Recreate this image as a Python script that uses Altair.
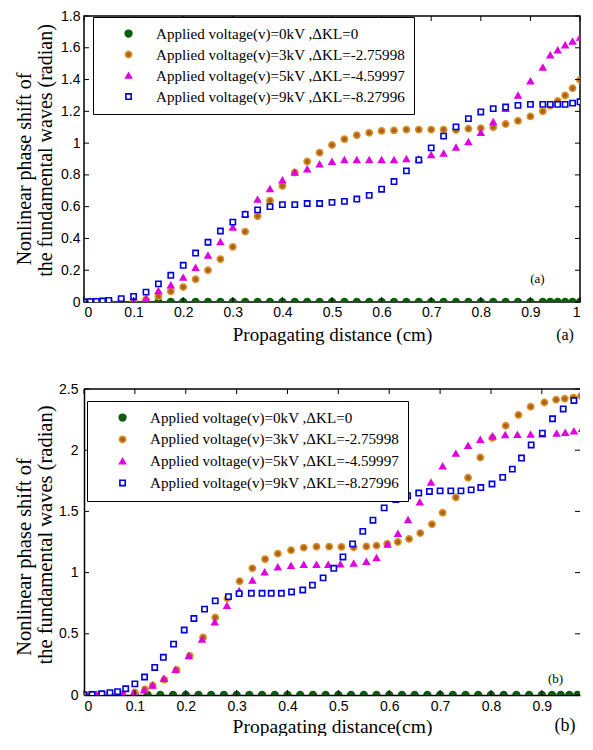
import altair as alt
import pandas as pd

# ---------------- legend / series definitions ----------------
LABELS = [
    "Applied voltage(v)=0kV ,ΔKL=0",
    "Applied voltage(v)=3kV ,ΔKL=-2.75998",
    "Applied voltage(v)=5kV ,ΔKL=-4.59997",
    "Applied voltage(v)=9kV ,ΔKL=-8.27996",
]
STROKES = ["#0b5d0b", "#dd8f2c", "#e000e0", "#0000e0"]
FILLS = ["#0b5d0b", "#a8621a", "#e000e0", "#ffffff"]
SHAPES = ["circle", "circle", "triangle-up", "square"]
SIZES = [45, 28, 38, 38]

# ---------------- panel (a) ----------------
xa = [0, 0.0125, 0.025, 0.0375, 0.05, 0.075, 0.1, 0.125, 0.15, 0.175, 0.2, 0.225,
      0.25, 0.275, 0.3, 0.325, 0.35, 0.375, 0.4, 0.425, 0.45, 0.475, 0.5, 0.525,
      0.55, 0.575, 0.6, 0.625, 0.65, 0.675, 0.7, 0.725, 0.75, 0.775, 0.8, 0.825,
      0.85, 0.875, 0.9, 0.925, 0.94, 0.955, 0.97, 0.985, 1.0]
ya_0kv = [0, 0, 0, 0, 0, 0, 0, 0, 0, 0, 0, 0, 0, 0, 0, 0, 0, 0, 0, 0, 0, 0, 0, 0,
          0, 0, 0, 0, 0, 0, 0, 0, 0, 0, 0, 0, 0, 0, 0, 0, 0, 0, 0, 0, 0]
ya_3kv = [0, 0, 0, 0, 0, 0.0, 0.005, 0.015, 0.035, 0.067, 0.094, 0.143, 0.2, 0.27,
          0.347, 0.443, 0.54, 0.638, 0.73, 0.815, 0.884, 0.94, 0.988, 1.025, 1.05,
          1.065, 1.077, 1.08, 1.085, 1.085, 1.085, 1.085, 1.082, 1.09, 1.094, 1.1,
          1.12, 1.14, 1.168, 1.2, 1.235, 1.265, 1.3, 1.345, 1.397]
ya_5kv = [0, 0, 0, 0, 0, 0, 0.008, 0.02, 0.07, 0.106, 0.154, 0.216, 0.293, 0.378,
          0.47, 0.555, 0.645, 0.711, 0.767, 0.815, 0.836, 0.867, 0.883, 0.894, 0.894,
          0.894, 0.894, 0.894, 0.9, 0.9, 0.925, 0.935, 0.973, 1.008, 1.065, 1.133,
          1.217, 1.3, 1.39, 1.477, 1.554, 1.585, 1.617, 1.64, 1.665]
ya_9kv = [0, 0.002, 0.004, 0.006, 0.01, 0.021, 0.035, 0.062, 0.114, 0.168, 0.231,
          0.308, 0.376, 0.447, 0.503, 0.551, 0.58, 0.6, 0.613, 0.613, 0.62, 0.62,
          0.627, 0.633, 0.648, 0.671, 0.71, 0.758, 0.825, 0.894, 0.97, 1.044, 1.102,
          1.154, 1.196, 1.217, 1.227, 1.2375, 1.244, 1.244, 1.244, 1.244, 1.244,
          1.252, 1.26]

# ---------------- panel (b) ----------------
xb_0kv = [0, 0.0125, 0.025, 0.0375, 0.05, 0.075, 0.1, 0.125, 0.15, 0.175, 0.2,
          0.225, 0.25, 0.275, 0.3, 0.325, 0.35, 0.375, 0.4, 0.425, 0.45, 0.475, 0.5,
          0.525, 0.55, 0.575, 0.6, 0.625, 0.65, 0.675, 0.7, 0.725, 0.75, 0.775, 0.8,
          0.825, 0.85, 0.875, 0.9, 0.92, 0.937, 0.954, 0.97, 0.986]
yb_0kv = [0, 0, 0, 0, 0, 0, 0, 0, 0, 0, 0, 0, 0, 0, 0, 0, 0, 0, 0, 0, 0, 0, 0, 0,
          0, 0, 0, 0, 0, 0, 0, 0, 0, 0, 0, 0, 0, 0, 0, 0, 0, 0, 0, 0]
xb_3kv = [0, 0.0125, 0.025, 0.0375, 0.05, 0.075, 0.1, 0.12, 0.135, 0.158, 0.182,
          0.208, 0.234, 0.258, 0.282, 0.306, 0.331, 0.356, 0.381, 0.407, 0.432, 0.457,
          0.482, 0.506, 0.53, 0.555, 0.575, 0.596, 0.617, 0.639, 0.661, 0.684, 0.705,
          0.731, 0.755, 0.779, 0.803, 0.829, 0.854, 0.878, 0.905, 0.928, 0.945,
          0.962, 0.977, 0.99]
yb_3kv = [0, 0, 0, 0, 0, 0.005, 0.02, 0.046, 0.078, 0.125, 0.205, 0.32, 0.47, 0.633,
          0.79, 0.93, 1.035, 1.11, 1.155, 1.183, 1.204, 1.212, 1.212, 1.21, 1.207,
          1.213, 1.22, 1.235, 1.25, 1.275, 1.323, 1.395, 1.489, 1.614, 1.775, 1.94,
          2.1, 2.2, 2.288, 2.355, 2.39, 2.412, 2.42, 2.43, 2.443, 2.455]
xb_5kv = [0, 0.0125, 0.025, 0.0375, 0.05, 0.077, 0.098, 0.118, 0.135, 0.157, 0.18,
          0.206, 0.232, 0.257, 0.281, 0.305, 0.331, 0.355, 0.381, 0.407, 0.432, 0.457,
          0.48, 0.504, 0.53, 0.555, 0.575, 0.597, 0.617, 0.637, 0.66, 0.682, 0.705,
          0.731, 0.755, 0.779, 0.803, 0.828, 0.852, 0.878, 0.901, 0.929, 0.946,
          0.963, 0.979, 0.992]
yb_5kv = [0, 0, 0, 0, 0, 0.01, 0.019, 0.04, 0.078, 0.134, 0.206, 0.319, 0.453, 0.595,
          0.729, 0.85, 0.936, 1.003, 1.045, 1.056, 1.065, 1.065, 1.065, 1.068, 1.075,
          1.09, 1.12, 1.23, 1.318, 1.43, 1.576, 1.737, 1.87, 1.973, 2.037, 2.086,
          2.115, 2.125, 2.126, 2.128, 2.13, 2.137, 2.144, 2.155, 2.175, 2.2]
xb_9kv = [0, 0.016, 0.035, 0.051, 0.066, 0.082, 0.1, 0.119, 0.139, 0.156, 0.176,
          0.197, 0.216, 0.237, 0.258, 0.284, 0.305, 0.329, 0.35, 0.368, 0.388, 0.408,
          0.43, 0.449, 0.47, 0.491, 0.509, 0.528, 0.548, 0.568, 0.59, 0.613, 0.636,
          0.658, 0.679, 0.7, 0.721, 0.741, 0.761, 0.78, 0.802, 0.823, 0.842, 0.86,
          0.879, 0.901, 0.921, 0.942, 0.963, 0.985]
yb_9kv = [0, 0.004, 0.01, 0.019, 0.027, 0.051, 0.091, 0.147, 0.225, 0.308, 0.416,
          0.531, 0.625, 0.702, 0.769, 0.804, 0.828, 0.831, 0.831, 0.831, 0.831, 0.842,
          0.858, 0.898, 0.957, 1.035, 1.128, 1.235, 1.337, 1.428, 1.529, 1.596, 1.628,
          1.65, 1.663, 1.668, 1.668, 1.668, 1.676, 1.695, 1.724, 1.778, 1.845, 1.936,
          2.043, 2.139, 2.257, 2.337, 2.406, 2.46]

# ---------------- ticks and texts ----------------
xticks_a = [0, 0.1, 0.2, 0.3, 0.4, 0.5, 0.6, 0.7, 0.8, 0.9, 1.0]
yticks_a = [0, 0.2, 0.4, 0.6, 0.8, 1.0, 1.2, 1.4, 1.6, 1.8]
xticks_b = [0, 0.1, 0.2, 0.3, 0.4, 0.5, 0.6, 0.7, 0.8, 0.9]
yticks_b = [0, 0.5, 1.0, 1.5, 2.0, 2.5]
YTITLE = ["Nonlinear phase shift of", "the fundamental waves (radian)"]

SERIF = "Liberation Serif"
SANS = "Liberation Sans"


def long_df(pairs):
    rows = []
    for lab, xs, ys in pairs:
        for x, y in zip(xs, ys):
            rows.append({"series": lab, "x": x, "y": y})
    return pd.DataFrame(rows)


def make_panel(df, W, H, xdom, ydom, xticks, yticks, xtitle, tag, p):
    xs = alt.Scale(domain=xdom, nice=False, zero=False)
    ys = alt.Scale(domain=ydom, nice=False, zero=False)
    xax = alt.Axis(
        values=xticks, format="~g", ticks=False, domain=not p["box"],
        domainColor="black", domainWidth=1.5,
        labelFont=SANS, labelFontSize=14, labelColor="black", labelPadding=p["xlab_pad"],
        title=xtitle, titleFont=SERIF, titleFontSize=p["xtitle_size"],
        titleFontWeight="normal", titleColor="black", titlePadding=p["xtitle_pad"],
        grid=False)
    yax = alt.Axis(
        values=yticks, format="~g", ticks=False, domain=not p["box"],
        domainColor="black", domainWidth=1.5,
        labelFont=SANS, labelFontSize=14, labelColor="black", labelPadding=p["ylab_pad"],
        title=None, grid=False)
    leg = alt.Legend(
        orient="none", legendX=p["leg_x"], legendY=p["leg_y"], title=None,
        strokeColor="black", fillColor="white", padding=9,
        rowPadding=p["row_pad"], labelFont=SERIF, labelFontSize=15.1, labelColor="black",
        labelLimit=500, symbolOffset=19, labelOffset=20, symbolStrokeWidth=1.6,
    )
    pts = alt.Chart(df).mark_point(opacity=1, strokeWidth=1.6, clip=True).encode(
        x=alt.X("x:Q", scale=xs, axis=xax),
        y=alt.Y("y:Q", scale=ys, axis=yax),
        shape=alt.Shape("series:N", scale=alt.Scale(domain=LABELS, range=SHAPES), legend=leg),
        stroke=alt.Stroke("series:N", scale=alt.Scale(domain=LABELS, range=STROKES), legend=leg),
        fill=alt.Fill("series:N", scale=alt.Scale(domain=LABELS, range=FILLS), legend=leg),
        size=alt.Size("series:N", scale=alt.Scale(domain=LABELS, range=SIZES), legend=leg),
        order=alt.Order("series:N", sort="ascending"),
    )

    ydf = pd.DataFrame({"y": yticks})
    xdf = pd.DataFrame({"x": xticks})
    tick_left = alt.Chart(ydf).mark_rule(color="black", strokeWidth=1).encode(
        y=alt.Y("y:Q", scale=ys, axis=yax), x=alt.value(0), x2=alt.value(5))
    tick_right = alt.Chart(ydf).mark_rule(color="black", strokeWidth=1).encode(
        y=alt.Y("y:Q", scale=ys, axis=yax), x=alt.value(W - 5), x2=alt.value(W))
    tick_bot = alt.Chart(xdf).mark_rule(color="black", strokeWidth=1).encode(
        x=alt.X("x:Q", scale=xs, axis=xax), y=alt.value(H), y2=alt.value(H - 5))
    tick_top = alt.Chart(xdf).mark_rule(color="black", strokeWidth=1).encode(
        x=alt.X("x:Q", scale=xs, axis=xax), y=alt.value(0), y2=alt.value(5))

    tag_df = pd.DataFrame({"t": [tag], "x": [p["tag_in"][0]], "y": [p["tag_in"][1]]})
    tag_in = alt.Chart(tag_df).mark_text(font=SERIF, fontSize=13, color="black").encode(
        x=alt.X("x:Q", scale=xs, axis=xax), y=alt.Y("y:Q", scale=ys, axis=yax), text="t:N")
    tag_out = alt.Chart(tag_df).mark_text(font=SERIF, fontSize=p["tag_size"], color="black").encode(
        x=alt.value(p["tag_out"][0]), y=alt.value(p["tag_out"][1]), text="t:N")

    # two-line y-axis title (lines placed independently, as in the original)
    t1 = alt.Chart(pd.DataFrame({"t": [YTITLE[0]]})).mark_text(
        font=SERIF, fontSize=p["ytitle_size"], color="black", angle=270,
        align="center", baseline="middle").encode(
        x=alt.value(p["yt1"][0]), y=alt.value(p["yt1"][1]), text="t:N")
    t2 = alt.Chart(pd.DataFrame({"t": [YTITLE[1]]})).mark_text(
        font=SERIF, fontSize=p["ytitle_size"], color="black", angle=270,
        align="center", baseline="middle").encode(
        x=alt.value(p["yt2"][0]), y=alt.value(p["yt2"][1]), text="t:N")

    layers = [pts, tick_left, tick_right, tick_bot, tick_top, tag_in, tag_out, t1, t2]
    if not p["box"]:
        top_border = alt.Chart(tag_df).mark_rule(color="black", strokeWidth=1.5).encode(
            x=alt.value(0), x2=alt.value(W), y=alt.value(0))
        layers.append(top_border)
    ch = alt.layer(*layers).properties(width=W, height=H)
    if p["box"]:
        ch = ch.properties(view=alt.ViewBackground(stroke="black", strokeWidth=1.5))
    else:
        ch = ch.properties(view=alt.ViewBackground(stroke=None))
    return ch


df_a = long_df([(LABELS[0], xa, ya_0kv), (LABELS[1], xa, ya_3kv),
                (LABELS[2], xa, ya_5kv), (LABELS[3], xa, ya_9kv)])
df_b = long_df([(LABELS[0], xb_0kv, yb_0kv), (LABELS[1], xb_3kv, yb_3kv),
                (LABELS[2], xb_5kv, yb_5kv), (LABELS[3], xb_9kv, yb_9kv)])

WA, HA = 496, 286
WB, HB = 496, 306

panel_a = make_panel(
    df_a, WA, HA, [0, 1], [0, 1.8], xticks_a, yticks_a,
    "Propagating distance (cm)", "(a)",
    dict(box=True, xlab_pad=3, xtitle_pad=6, xtitle_size=19, ylab_pad=4,
         leg_x=9, leg_y=1, row_pad=5, tag_in=(0.914, 0.145), tag_size=16,
         tag_out=(481, HA + 33), ytitle_size=20, yt1=(-59, 153), yt2=(-38, 134.5)))
panel_b = make_panel(
    df_b, WB, HB, [0, 0.975], [0, 2.5], xticks_b, yticks_b,
    "Propagating distance(cm)", "(b)",
    dict(box=False, xlab_pad=4, xtitle_pad=4, xtitle_size=19.5, ylab_pad=6,
         leg_x=3, leg_y=12, row_pad=5.8, tag_in=(0.927, 0.13), tag_size=18,
         tag_out=(481, HB + 31), ytitle_size=20.5, yt1=(-59, 168), yt2=(-38, 146)))

chart = alt.vconcat(panel_a, panel_b, spacing=37).resolve_scale(
    shape="independent", stroke="independent", fill="independent", size="independent"
).resolve_legend(
    shape="independent", stroke="independent", fill="independent", size="independent"
).properties(
    padding={"left": 6, "top": 0, "right": 0, "bottom": 0}
).configure(background="white")

chart.save("out.html", embed_options={"renderer": "svg", "actions": False})
